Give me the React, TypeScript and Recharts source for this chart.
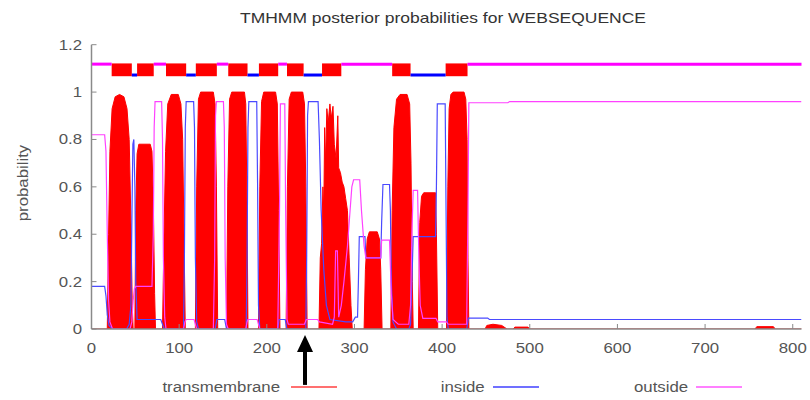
import React from 'react';
import {
  ComposedChart,
  XAxis,
  YAxis,
  Area,
  Line,
  ReferenceArea,
  ReferenceLine,
  Legend,
  Customized,
} from 'recharts';

const FONT = '"Liberation Sans", Arial, Helvetica, sans-serif';
const SX = 1.2;
const AXIS_GREY = '#8a8a8a';
const TEXT_GREY = '#555555';

const chartTitle = 'TMHMM posterior probabilities for WEBSEQUENCE';
const yLabel = 'probability';
const xTicks = [0, 100, 200, 300, 400, 500, 600, 700, 800];
const yTicks = [0, 0.2, 0.4, 0.6, 0.8, 1, 1.2];
const legendLabels = ['transmembrane', 'inside', 'outside'];

// predicted topology (top track)
const tmSegments: [number, number][] = [
  [23, 46], [52, 71], [85, 108], [119, 143], [156, 178],
  [191, 213], [223, 242], [263, 285], [343, 364], [404, 429],
];
const insideSegments: [number, number][] = [
  [46, 52], [108, 119], [178, 191], [242, 263], [364, 404],
];
const outsideSegments: [number, number][] = [
  [0, 23], [71, 85], [143, 156], [213, 223], [285, 343], [429, 810],
];
const trackOutsideLevel = 1.118;
const trackInsideLevel = 1.072;
const trackTmRange: [number, number] = [1.067, 1.121];
const arrowResidue = 243.6;

// posterior probabilities [residue, probability]
const tmPoints: [number, number][] = [
  [0, 0], [18, 0], [19.5, 0.4], [21, 0.75], [23.5, 0.93], [27, 0.98], [32, 0.99], [37, 0.98], [40.5, 0.93], [43, 0.8], [45, 0.45], [46.5, 0.1], [47.5, 0],
  [49.5, 0], [50.5, 0.5], [52, 0.74], [54, 0.78], [67, 0.78], [69, 0.75], [70.5, 0.55], [72, 0.15], [73, 0],
  [81, 0], [82.5, 0.35], [84.5, 0.75], [87, 0.95], [91, 0.99], [99, 0.99], [102, 0.95], [104, 0.8], [105.5, 0.4], [107, 0],
  [118.5, 0], [120, 0.6], [122, 0.97], [124.5, 1.0], [139, 1.0], [141, 0.95], [142.5, 0.6], [144, 0],
  [154, 0], [155.5, 0.6], [157.5, 0.97], [160, 1.0], [174.5, 1.0], [176, 0.95], [177.5, 0.5], [178.5, 0],
  [190.5, 0], [192, 0.6], [194, 0.96], [196.5, 1.0], [210, 1.0], [212, 0.95], [213.5, 0.5], [215, 0],
  [222, 0], [223.5, 0.6], [225.5, 0.97], [228, 1.0], [241, 1.0], [243, 0.95], [244.5, 0.6], [246, 0],
  [259.5, 0], [261, 0.3], [262.5, 0.36], [264, 0.6], [265, 0.5], [266, 0.85], [267, 0.7], [268.5, 0.93], [270, 0.87], [272, 0.95], [273.5, 0.89], [275.5, 0.94], [277, 0.78], [279, 0.72], [281, 0.9], [282, 0.68], [284, 0.66], [286, 0.62], [288, 0.6], [290, 0.55], [292, 0.5], [294, 0.3], [296, 0.1], [297.5, 0],
  [311, 0], [312.5, 0.25], [314.5, 0.38], [317, 0.41], [326, 0.41], [328.5, 0.38], [330, 0.25], [331.5, 0],
  [341.5, 0], [343, 0.5], [345, 0.85], [348, 0.97], [352, 0.99], [360, 0.99], [363, 0.95], [364.5, 0.7], [366, 0.2], [367, 0],
  [373, 0], [374.5, 0.45], [376.5, 0.56], [379, 0.575], [392.5, 0.575], [393.5, 0.4], [395, 0],
  [405, 0], [406.5, 0.6], [408, 0.93], [410, 0.99], [412.5, 1.0], [425, 1.0], [427, 0.97], [428.5, 0.8], [429.5, 0.3], [430.5, 0],
  [449, 0], [451, 0.015], [458, 0.02], [468, 0.015], [474, 0], [481, 0], [483, 0.008], [498, 0.008], [500, 0],
  [757, 0], [759, 0.01], [778, 0.01], [780, 0], [810, 0],
];

const insidePoints: [number, number][] = [
  [0, 0.18], [15, 0.18], [16.5, 0.14], [18, 0.06], [20, 0.015], [24, 0], [40, 0], [43, 0.02], [45, 0.1], [46.2, 0.5], [47.2, 0.78], [48.3, 0.8], [49.5, 0.6], [50.5, 0.2], [52, 0.04], [79, 0.04], [81, 0.02], [83, 0],
  [105, 0], [106, 0.3], [107, 0.85], [108, 0.96], [116.5, 0.96], [117.5, 0.85], [118.5, 0.3], [120, 0.03], [122, 0],
  [141, 0], [143, 0.04], [152, 0.04], [154, 0],
  [176.5, 0], [177.5, 0.3], [178.5, 0.85], [179.5, 0.96], [188.5, 0.96], [189.5, 0.6], [190.5, 0.1], [192, 0],
  [212.5, 0], [214, 0.04], [221, 0.04], [223, 0],
  [244.5, 0], [245.5, 0.3], [246.5, 0.9], [247.5, 0.96], [258.5, 0.96], [260, 0.8], [262, 0.5], [265, 0.25], [268, 0.1], [272, 0.04], [290, 0.03], [298, 0.03], [301, 0.05], [303.5, 0.05], [304.5, 0.2], [305.5, 0.39], [312, 0.39], [313, 0.3], [330, 0.3], [331, 0.45], [332.5, 0.61], [340, 0.61], [341, 0.5], [342, 0.2], [344, 0.03], [348, 0],
  [362, 0], [364, 0.02], [365.5, 0.2], [367, 0.39], [392.5, 0.39], [393.5, 0.6], [394.5, 0.95], [403.5, 0.95], [404.5, 0.5], [405.5, 0.05], [407, 0],
  [428, 0], [430, 0.046], [452, 0.046], [454, 0.04], [810, 0.04],
];

const outsidePoints: [number, number][] = [
  [0, 0.82], [15, 0.82], [16.5, 0.75], [18, 0.4], [19.5, 0.12], [21, 0.03], [24, 0], [44, 0], [46, 0.03], [47.5, 0.12], [49, 0.17], [50.5, 0.18], [69, 0.18], [70.5, 0.4], [71.5, 0.85], [72.5, 0.96], [80, 0.96], [81, 0.8], [82, 0.3], [83.5, 0.05], [85, 0],
  [105, 0], [106.5, 0.03], [108, 0.04], [117, 0.04], [118.5, 0.02], [120, 0],
  [139, 0], [140.5, 0.3], [141.5, 0.9], [142.5, 0.96], [150.5, 0.96], [151.5, 0.85], [152.5, 0.3], [154, 0.02], [156, 0],
  [176, 0], [177.5, 0.03], [178.5, 0.04], [189, 0.04], [190.5, 0.02], [192, 0],
  [212.5, 0], [214.5, 0.5], [215.5, 0.95], [220.5, 0.95], [221.5, 0.5], [223, 0.04], [224.5, 0.02], [243, 0.02], [245, 0.04], [258, 0.04], [260, 0.03], [275, 0.02], [277, 0.05], [278.5, 0.33], [280.5, 0.33], [282, 0.05], [285, 0.1], [288, 0.2], [292, 0.35], [295, 0.5], [297, 0.6], [299, 0.63], [306, 0.63], [308, 0.5], [311, 0.35], [313, 0.3], [330, 0.3], [331, 0.375], [340, 0.375], [342, 0.15], [344, 0.04], [350, 0.02],
  [362, 0.02], [364, 0.1], [365.5, 0.4], [367, 0.585], [372, 0.585], [373.5, 0.3], [375, 0.1], [378, 0.045], [393, 0.045], [395, 0.03], [405, 0.03], [407, 0.02], [428, 0.02], [429.5, 0.5], [430.5, 0.955], [452, 0.955], [475, 0.955], [477, 0.96], [810, 0.96],
];

const tmData = tmPoints.map(([x, v]) => ({ x, v }));
const insideData = insidePoints.map(([x, v]) => ({ x, v }));
const outsideData = outsidePoints.map(([x, v]) => ({ x, v }));

const legendColors = ['#ff7070', '#7070ff', '#ff80ff'];
const legendTextRight = [280, 485, 688];
const legendLineStart = [291, 493, 696];

const XTick = (p: any) => (
  <text
    transform={`translate(${p.x},${p.y}) scale(${SX},1)`}
    textAnchor="middle"
    dy="0.71em"
    fontSize={14}
    fontFamily={FONT}
    fill={TEXT_GREY}
  >
    {p.payload.value}
  </text>
);

const YTick = (p: any) => (
  <text
    transform={`translate(${p.x},${p.y}) scale(${SX},1)`}
    textAnchor="end"
    dy="0.355em"
    fontSize={14}
    fontFamily={FONT}
    fill={TEXT_GREY}
  >
    {String(p.payload.value)}
  </text>
);

const ArrowShape = (p: any) => {
  const { x1, y1, x2, y2 } = p;
  const top = Math.min(y1, y2);
  const bottom = Math.max(y1, y2);
  const x = (x1 + x2) / 2;
  return (
    <g>
      <line x1={x} y1={bottom} x2={x} y2={top + 12} stroke="#000" strokeWidth={4} />
      <polygon points={`${x},${top} ${x - 8},${top + 17} ${x + 8},${top + 17}`} fill="#000" />
    </g>
  );
};

const LegendContent = () => (
  <div style={{ position: 'relative', width: 810, height: 20, fontFamily: FONT, fontSize: 14, color: TEXT_GREY }}>
    {legendLabels.map((label, i) => (
      <React.Fragment key={label}>
        <span
          style={{
            position: 'absolute',
            right: 810 - legendTextRight[i],
            top: 0,
            lineHeight: '20px',
            whiteSpace: 'nowrap',
            transform: `scaleX(${SX})`,
            transformOrigin: 'right center',
          }}
        >
          {label}
        </span>
        <span
          style={{
            position: 'absolute',
            left: legendLineStart[i],
            top: 9,
            width: 46,
            height: 2,
            background: legendColors[i],
          }}
        />
      </React.Fragment>
    ))}
  </div>
);

const Title = () => (
  <g>
    <text
      transform={`translate(443,23) scale(1.25,1)`}
      textAnchor="middle"
      fontSize={14}
      fontFamily={FONT}
      fill="#333"
    >
      {chartTitle}
    </text>
    <text
      transform="translate(28,183) rotate(-90) scale(1.2,1)"
      textAnchor="middle"
      fontSize={14}
      fontFamily={FONT}
      fill={TEXT_GREY}
    >
      {yLabel}
    </text>
  </g>
);

export default function App() {
  return (
    <div style={{ position: 'absolute', left: 0, top: 0, width: 810, height: 400, background: '#fff' }}>
      <ComposedChart
        width={810}
        height={400}
        margin={{ top: 44.7, right: 8.5, bottom: 41, left: 31.5 }}
      >
        <XAxis
          dataKey="x"
          type="number"
          domain={[0, 810]}
          ticks={xTicks}
          allowDataOverflow
          height={30}
          tickSize={-5}
          tickMargin={19}
          tick={XTick}
          axisLine={{ stroke: AXIS_GREY, strokeWidth: 1.5 }}
          tickLine={{ stroke: AXIS_GREY }}
        />
        <XAxis
          xAxisId="top"
          orientation="top"
          dataKey="x"
          type="number"
          domain={[0, 810]}
          ticks={xTicks}
          allowDataOverflow
          height={0}
          tickSize={-5}
          tick={false}
          axisLine={{ stroke: AXIS_GREY, strokeWidth: 1.5 }}
          tickLine={{ stroke: AXIS_GREY }}
        />
        <YAxis
          type="number"
          domain={[0, 1.2]}
          ticks={yTicks}
          allowDataOverflow
          width={60}
          tickSize={-5}
          tickMargin={14.5}
          tick={YTick}
          axisLine={{ stroke: AXIS_GREY, strokeWidth: 1.5 }}
          tickLine={{ stroke: AXIS_GREY }}
        />
        <YAxis
          yAxisId="right"
          orientation="right"
          type="number"
          domain={[0, 1.2]}
          ticks={yTicks}
          allowDataOverflow
          width={0}
          tickSize={-5}
          tick={false}
          axisLine={{ stroke: AXIS_GREY, strokeWidth: 1.5 }}
          tickLine={{ stroke: AXIS_GREY }}
        />

        <Area
          data={tmData}
          dataKey="v"
          name="transmembrane"
          type="linear"
          stroke="#ff0000"
          strokeWidth={1}
          fill="#ff0000"
          fillOpacity={1}
          dot={false}
          activeDot={false}
          isAnimationActive={false}
        />
        <Line
          data={insideData}
          dataKey="v"
          name="inside"
          type="linear"
          stroke="#4a4aff"
          strokeWidth={1.2}
          dot={false}
          activeDot={false}
          isAnimationActive={false}
        />
        <Line
          data={outsideData}
          dataKey="v"
          name="outside"
          type="linear"
          stroke="#ff40ff"
          strokeWidth={1.2}
          dot={false}
          activeDot={false}
          isAnimationActive={false}
        />

        {outsideSegments.map(([a, b]) => (
          <ReferenceLine
            key={`o${a}`}
            segment={[{ x: a, y: trackOutsideLevel }, { x: b, y: trackOutsideLevel }]}
            stroke="#ff00ff"
            strokeWidth={3}
          />
        ))}
        {insideSegments.map(([a, b]) => (
          <ReferenceLine
            key={`i${a}`}
            segment={[{ x: a, y: trackInsideLevel }, { x: b, y: trackInsideLevel }]}
            stroke="#0000ff"
            strokeWidth={3}
          />
        ))}
        {tmSegments.map(([a, b]) => (
          <ReferenceArea
            key={`t${a}`}
            x1={a}
            x2={b}
            y1={trackTmRange[0]}
            y2={trackTmRange[1]}
            fill="#ff0000"
            fillOpacity={1}
            stroke="none"
          />
        ))}

        <ReferenceLine
          segment={[{ x: arrowResidue, y: -0.236 }, { x: arrowResidue, y: -0.025 }]}
          ifOverflow="visible"
          shape={ArrowShape}
        />

        <Legend
          layout="horizontal"
          verticalAlign="middle"
          align="center"
          content={LegendContent}
          wrapperStyle={{ position: 'absolute', top: 377, left: 0, width: 810, height: 20 }}
        />
        <Customized component={Title} />
      </ComposedChart>
    </div>
  );
}
